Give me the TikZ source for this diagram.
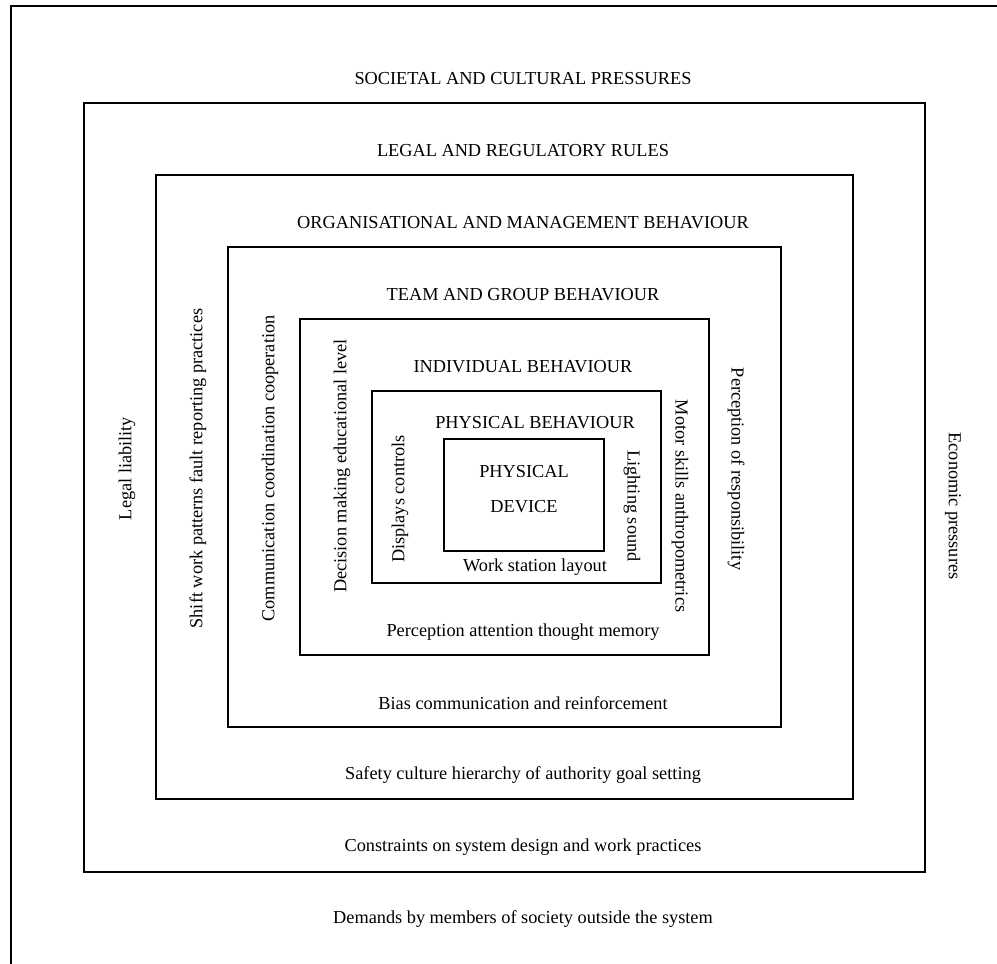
\documentclass[tikz,border=0pt]{standalone}
\usepackage{fontspec}
\setmainfont{Liberation Serif}

\begin{document}
\begin{tikzpicture}[x=1pt, y=-1pt,
    frame/.style={draw, line width=1.8pt, inner sep=0pt, outer sep=0pt},
    lbl/.style={font=\fontsize{18.3}{35}\selectfont, inner sep=0pt},
    up/.style={lbl, rotate=90},
    down/.style={lbl, rotate=-90}
]
\useasboundingbox (0,0) rectangle (997,964);
\coordinate (outerE) at (997,6);
\coordinate (outerS) at (11,964);
\draw[line width=1.8pt] (outerE) -| (outerS);

\node[frame, minimum width=841pt, minimum height=769pt] (legal) at (504.5,487.5) {};
\node[frame, minimum width=697pt, minimum height=624pt] (org) at (504.5,487) {};
\node[frame, minimum width=553pt, minimum height=480pt] (team) at (504.5,487) {};
\node[frame, minimum width=409pt, minimum height=336pt] (indiv) at (504.5,487) {};
\node[frame, minimum width=289pt, minimum height=192pt] (phys) at (516.5,487) {};
\node[frame, minimum width=160pt, minimum height=112pt] (device) at (524,495) {};

\node[lbl] (socT) at (523,79) {SOCIETAL AND CULTURAL PRESSURES};
\node[lbl] (legalT) at (523,151) {LEGAL AND REGULATORY RULES};
\node[lbl] (orgT) at (523,223) {ORGANISATIONAL AND MANAGEMENT BEHAVIOUR};
\node[lbl] (teamT) at (523,295) {TEAM AND GROUP BEHAVIOUR};
\node[lbl] (indivT) at (523,367) {INDIVIDUAL BEHAVIOUR};
\node[lbl] (physT) at (535,423) {PHYSICAL BEHAVIOUR};
\node[lbl, align=center] (deviceT) at (524,489.5) {PHYSICAL\\DEVICE};

\node[lbl] (layout) at (535,567) {Work station layout};
\node[lbl] (memory) at (523,632) {Perception attention thought memory};
\node[lbl] (bias) at (523,703) {Bias communication and reinforcement};
\node[lbl] (safety) at (523,775) {Safety culture hierarchy of authority goal setting};
\node[lbl] (constr) at (523,847) {Constraints on system design and work practices};
\node[lbl] (demands) at (523,919) {Demands by members of society outside the system};

\node[up] (liability) at (127,468.5) {Legal liability};
\node[up] (shift) at (198,468.5) {Shift work patterns fault reporting practices};
\node[up] (comm) at (270,468.5) {Communication coordination cooperation};
\node[up] (decision) at (342,466) {Decision making educational level};
\node[up] (displays) at (400,499) {Displays controls};

\node[down] (lighting) at (632,506) {Lighting sound};
\node[down] (motor) at (680,506) {Motor skills anthropometrics};
\node[down] (respons) at (736,469) {Perception of responsibility};
\node[down] (economic) at (953,506) {Economic pressures};
\end{tikzpicture}
\end{document}
